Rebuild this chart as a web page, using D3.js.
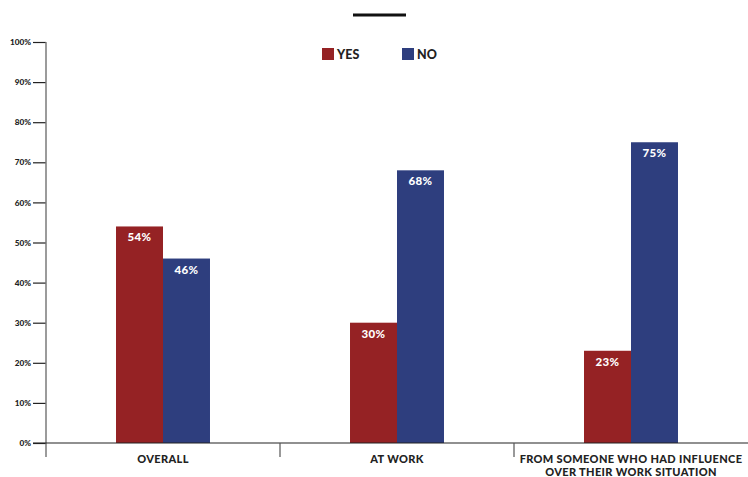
<!DOCTYPE html>
<html>
<head>
<meta charset="utf-8">
<script src="https://cdn.jsdelivr.net/npm/d3@7"></script>
<style>
  html, body { margin: 0; padding: 0; background: #fff; }
  svg { display: block; font-family: Lato, "Open Sans", sans-serif; }
</style>
</head>
<body>
<svg id="chart" width="748" height="477"></svg>
<script>
// Survey answers by context, share of respondents (%)
const categories = ["OVERALL", "AT WORK", "FROM SOMEONE WHO HAD INFLUENCE|OVER THEIR WORK SITUATION"];
const seriesNames = ["YES", "NO"];
const yesValues = [54, 30, 23];
const noValues = [46, 68, 75];
const yTicks = [0, 10, 20, 30, 40, 50, 60, 70, 80, 90, 100];
const colors = ["#952224", "#2e3e7e"];

const rows = categories.map((c, i) => ({ category: c, values: [yesValues[i], noValues[i]] }));

const svg = d3.select("#chart");
const plotLeft = 46, plotRight = 748, plotTop = 42, plotBottom = 443;

const x0 = d3.scaleBand().domain(categories).range([plotLeft, plotRight]).paddingInner(0).paddingOuter(0);
const x1 = d3.scaleBand().domain(seriesNames).range([0, x0.bandwidth()]).paddingInner(0).paddingOuter(1.49);
const y = d3.scaleLinear().domain([0, 100]).range([plotBottom, plotTop]);

// Bars
const groups = svg.append("g").selectAll("g").data(rows).join("g")
  .attr("transform", d => `translate(${x0(d.category)},0)`);

groups.selectAll("rect").data(d => d.values.map((v, i) => ({ key: seriesNames[i], value: v, i })))
  .join("rect")
  .attr("x", d => x1(d.key))
  .attr("width", x1.bandwidth())
  .attr("y", d => y(d.value))
  .attr("height", d => y(0) - y(d.value))
  .attr("fill", d => colors[d.i]);

groups.selectAll("text.val").data(d => d.values.map((v, i) => ({ key: seriesNames[i], value: v })))
  .join("text")
  .attr("class", "val")
  .attr("x", d => x1(d.key) + x1.bandwidth() / 2)
  .attr("y", d => y(d.value) + 15)
  .attr("text-anchor", "middle")
  .attr("fill", "#fff")
  .attr("font-size", 11.5)
  .attr("font-weight", 900)
  .attr("letter-spacing", 0.3)
  .text(d => d.value + "%");

// Y axis
const yAxis = d3.axisLeft(y).tickValues(yTicks).tickSize(13).tickPadding(2).tickFormat(d => d + "%");
const gy = svg.append("g").attr("transform", `translate(${plotLeft},0)`).call(yAxis);
gy.select(".domain").remove();
gy.selectAll(".tick line").attr("stroke", "#222").attr("stroke-width", 1.2);
gy.selectAll(".tick text").attr("fill", "#222").attr("font-size", 8.2).attr("font-weight", 900)
  .attr("font-family", "Lato, sans-serif");
svg.append("line").attr("x1", plotLeft).attr("x2", plotLeft).attr("y1", y(100)).attr("y2", plotBottom + 14)
  .attr("stroke", "#7a7a7a").attr("stroke-width", 1.5);

// X axis baseline and category separators
svg.append("line").attr("x1", plotLeft - 13).attr("x2", plotRight).attr("y1", plotBottom).attr("y2", plotBottom)
  .attr("stroke", "#222").attr("stroke-width", 1.2);
categories.slice(1).forEach(c => {
  svg.append("line").attr("x1", x0(c)).attr("x2", x0(c)).attr("y1", plotBottom).attr("y2", plotBottom + 14)
    .attr("stroke", "#555").attr("stroke-width", 1.2);
});

// Category labels
categories.forEach(c => {
  const lines = c.split("|");
  const t = svg.append("text")
    .attr("x", x0(c) + x0.bandwidth() / 2)
    .attr("y", plotBottom + 19.5)
    .attr("text-anchor", "middle")
    .attr("fill", "#222")
    .attr("font-size", 11)
    .attr("font-weight", 900)
    .attr("letter-spacing", 0.35);
  lines.forEach((l, i) => t.append("tspan").attr("x", x0(c) + x0.bandwidth() / 2).attr("dy", i === 0 ? 0 : 13).text(l));
});

// Title rule
svg.append("line").attr("x1", 353).attr("x2", 406).attr("y1", 15).attr("y2", 15)
  .attr("stroke", "#111").attr("stroke-width", 3);

// Legend
const legend = svg.append("g");
const legendX = [322, 402];
seriesNames.forEach((s, i) => {
  legend.append("rect").attr("x", legendX[i]).attr("y", 48).attr("width", 12).attr("height", 12).attr("fill", colors[i]);
  legend.append("text").attr("x", legendX[i] + 15).attr("y", 59)
    .attr("fill", "#222").attr("font-size", 12.5).attr("font-weight", 900).text(s);
});
</script>
</body>
</html>
